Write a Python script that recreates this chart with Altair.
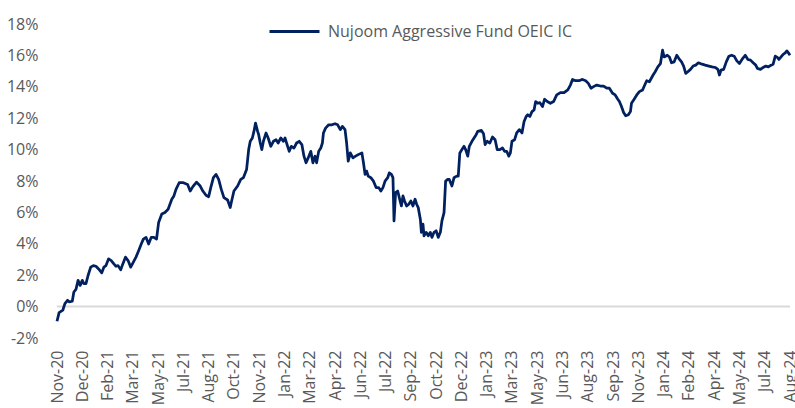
import altair as alt
import pandas as pd

series_name = "Nujoom Aggressive Fund OEIC IC"
start_date = "2020-11-06"

# days since start date
day_offsets = [
    0, 4, 11, 15, 20, 23, 29, 32, 36, 40,
    44, 48, 51, 55, 59, 64, 69, 74, 79, 85,
    89, 93, 98, 103, 108, 112, 116, 121, 125, 130,
    135, 140, 145, 150, 155, 160, 164, 169, 174, 179,
    184, 189, 193, 199, 205, 211, 218, 222, 226, 232,
    240, 248, 253, 258, 265, 272, 277, 283, 288, 292,
    297, 302, 307, 312, 317, 324, 329, 331, 336, 343,
    349, 354, 360, 364, 367, 371, 374, 377, 381, 383,
    386, 389, 392, 397, 401, 406, 411, 416, 420, 425,
    430, 433, 438, 441, 445, 450, 455, 460, 465, 469,
    473, 477, 482, 486, 490, 493, 497, 501, 504, 506,
    510, 516, 522, 528, 533, 538, 542, 547, 550, 553,
    557, 562, 567, 572, 579, 582, 585, 588, 591, 596,
    601, 606, 611, 615, 619, 623, 628, 631, 635, 638,
    640, 643, 647, 650, 654, 657, 660, 664, 668, 672,
    676, 680, 683, 686, 690, 692, 695, 697, 701, 705,
    709, 712, 716, 720, 724, 728, 731, 735, 738, 742,
    745, 750, 754, 759, 762, 765, 769, 773, 776, 780,
    783, 788, 792, 796, 799, 806, 810, 813, 817, 822,
    827, 832, 836, 841, 846, 850, 854, 858, 861, 864,
    869, 873, 878, 883, 887, 891, 894, 898, 902, 906,
    909, 913, 917, 922, 926, 931, 937, 943, 949, 956,
    963, 970, 975, 979, 985, 991, 998, 1004, 1009, 1014,
    1019, 1025, 1032, 1038, 1044, 1049, 1055, 1060, 1065, 1068,
    1072, 1076, 1080, 1085, 1089, 1091, 1096, 1101, 1106, 1112,
    1117, 1120, 1125, 1132, 1136, 1141, 1146, 1150, 1153, 1159,
    1163, 1167, 1172, 1177, 1181, 1186, 1190, 1194, 1198, 1203,
    1208, 1213, 1218, 1225, 1231, 1238, 1244, 1250, 1255, 1258,
    1261, 1266, 1271, 1276, 1281, 1286, 1291, 1296, 1302, 1307,
    1312, 1317, 1322, 1327, 1330, 1336, 1341, 1346, 1351, 1356,
    1360, 1364, 1368, 1371, 1375, 1379, 1383, 1386, 1389, 1392,
]

# cumulative return, %
returns_pct = [
    -0.93, -0.38, -0.23, 0.19, 0.40, 0.30, 0.34, 0.93, 1.10, 1.67,
    1.35, 1.67, 1.46, 1.46, 1.98, 2.51, 2.61, 2.57, 2.40, 2.15,
    2.51, 2.61, 3.04, 2.93, 2.72, 2.57, 2.61, 2.34, 2.72, 3.15,
    2.93, 2.51, 2.83, 3.15, 3.56, 3.99, 4.30, 4.41, 3.99, 4.41,
    4.41, 4.30, 5.36, 5.90, 6.00, 6.20, 6.84, 7.05, 7.47, 7.89,
    7.89, 7.78, 7.36, 7.64, 7.93, 7.68, 7.36, 7.09, 7.00, 7.58,
    8.21, 8.42, 8.10, 7.47, 6.94, 6.79, 6.31, 6.63, 7.36, 7.68,
    8.10, 8.21, 8.73, 10.00, 10.53, 10.74, 11.16, 11.69, 11.16, 10.95,
    10.42, 10.00, 10.53, 11.06, 10.74, 10.21, 10.53, 10.63, 10.42, 10.74,
    10.53, 10.74, 10.21, 9.89, 10.21, 10.10, 10.42, 10.53, 10.32, 9.58,
    9.16, 9.47, 9.89, 9.16, 9.58, 9.16, 9.89, 10.10, 10.42, 11.06,
    11.37, 11.58, 11.58, 11.65, 11.58, 11.27, 11.48, 11.27, 10.42, 9.26,
    9.79, 9.47, 9.58, 9.68, 9.79, 9.16, 8.42, 8.63, 8.31, 8.21,
    7.99, 7.58, 7.58, 7.36, 7.58, 7.99, 8.21, 8.52, 8.42, 8.21,
    5.46, 7.26, 7.36, 6.94, 6.41, 7.05, 6.73, 6.41, 6.52, 6.73,
    6.41, 6.84, 6.52, 6.31, 5.57, 4.73, 5.25, 4.51, 4.73, 4.51,
    4.73, 4.41, 4.73, 4.83, 4.41, 4.73, 5.46, 5.99, 7.99, 8.10,
    8.10, 7.68, 8.21, 8.31, 8.31, 9.79, 10.00, 10.21, 10.00, 9.58,
    10.21, 10.53, 10.74, 10.95, 11.16, 11.22, 11.01, 10.32, 10.53, 10.42,
    10.80, 10.63, 10.00, 10.00, 10.10, 9.89, 9.89, 9.58, 9.79, 10.53,
    10.63, 11.06, 11.27, 11.06, 11.79, 12.11, 12.22, 12.11, 12.42, 12.53,
    13.06, 12.95, 12.99, 12.74, 13.21, 13.06, 12.95, 13.06, 13.48, 13.63,
    13.63, 13.80, 14.11, 14.47, 14.39, 14.39, 14.47, 14.39, 14.22, 13.91,
    14.01, 14.11, 14.05, 14.05, 13.91, 13.91, 13.59, 13.48, 13.21, 13.06,
    12.74, 12.36, 12.15, 12.22, 12.42, 12.95, 13.21, 13.48, 13.69, 13.80,
    14.18, 14.39, 14.32, 14.75, 14.96, 15.27, 15.48, 16.33, 15.90, 16.01,
    15.90, 15.53, 15.59, 16.01, 15.80, 15.59, 15.32, 14.85, 14.96, 15.11,
    15.32, 15.38, 15.53, 15.44, 15.38, 15.32, 15.27, 15.23, 15.11, 14.75,
    15.06, 15.11, 15.59, 15.95, 16.01, 15.95, 15.65, 15.48, 15.80, 16.01,
    15.74, 15.70, 15.53, 15.38, 15.17, 15.11, 15.23, 15.32, 15.27, 15.38,
    15.44, 15.95, 15.87, 15.74, 15.90, 16.07, 16.16, 16.29, 16.16, 16.01,
]

tick_dates = [
    "2020-11-06", "2020-12-24", "2021-02-10", "2021-03-30", "2021-05-17",
    "2021-07-04", "2021-08-21", "2021-10-08", "2021-11-25", "2022-01-12",
    "2022-03-01", "2022-04-18", "2022-06-05", "2022-07-23", "2022-09-09",
    "2022-10-27", "2022-12-14", "2023-01-31", "2023-03-20", "2023-05-07",
    "2023-06-24", "2023-08-11", "2023-09-28", "2023-11-15", "2024-01-02",
    "2024-02-19", "2024-04-07", "2024-05-25", "2024-07-12", "2024-08-29",
]
y_ticks = [-2, 0, 2, 4, 6, 8, 10, 12, 14, 16, 18]

FONT = "Open Sans"
GREY = "#595959"
NAVY = "#002060"


def to_dt(s):
    t = pd.Timestamp(s)
    return alt.DateTime(year=t.year, month=t.month, date=t.day)


dates = pd.Timestamp(start_date) + pd.to_timedelta(day_offsets, unit="D")
df = pd.DataFrame({
    "date": dates.strftime("%Y-%m-%dT00:00:00"),
    "value": returns_pct,
    "series": series_name,
})

tick_vals = [to_dt(s) for s in tick_dates]

line = alt.Chart(df).mark_line(strokeWidth=2.75, strokeJoin="round").encode(
    x=alt.X(
        "date:T",
        scale=alt.Scale(domain=[tick_vals[0], tick_vals[-1]], nice=False),
        axis=alt.Axis(
            values=tick_vals, format="%b-%y", labelAngle=-90,
            labelFontSize=16, labelColor=GREY, labelFont=FONT,
            labelPadding=12, domain=False, ticks=False, grid=False,
            title=None, labelOverlap=False, labelFlush=False,
            tickCount=len(tick_dates),
        ),
    ),
    y=alt.Y(
        "value:Q",
        scale=alt.Scale(domain=[-2, 18], nice=False, zero=False),
        axis=alt.Axis(
            values=y_ticks, tickCount=len(y_ticks),
            labelExpr="datum.value + '%'",
            labelFontSize=16, labelColor=GREY, labelFont=FONT,
            labelPadding=19, domain=False, ticks=False, grid=False,
            title=None, labelOverlap=False, labelFlush=False,
        ),
    ),
    color=alt.Color(
        "series:N",
        scale=alt.Scale(range=[NAVY]),
        legend=alt.Legend(
            orient="none", legendX=211, legendY=-19, title=None,
            symbolType="stroke", symbolSize=2500, symbolStrokeWidth=3,
            labelFontSize=16, labelColor=GREY, labelFont=FONT,
            labelOffset=7, labelLimit=0,
        ),
    ),
)

zero_rule = alt.Chart(pd.DataFrame({"value": [0]})).mark_rule(
    color="#d9d9d9", strokeWidth=2
).encode(y="value:Q")

chart = alt.layer(zero_rule, line).properties(
    width=733,
    height=314,
    autosize=alt.AutoSizeParams(type="none"),
    padding={"left": 57, "top": 24, "right": 5, "bottom": 70},
).configure_view(stroke=None)

chart.save("out.html", embed_options={"renderer": "svg", "actions": False})
